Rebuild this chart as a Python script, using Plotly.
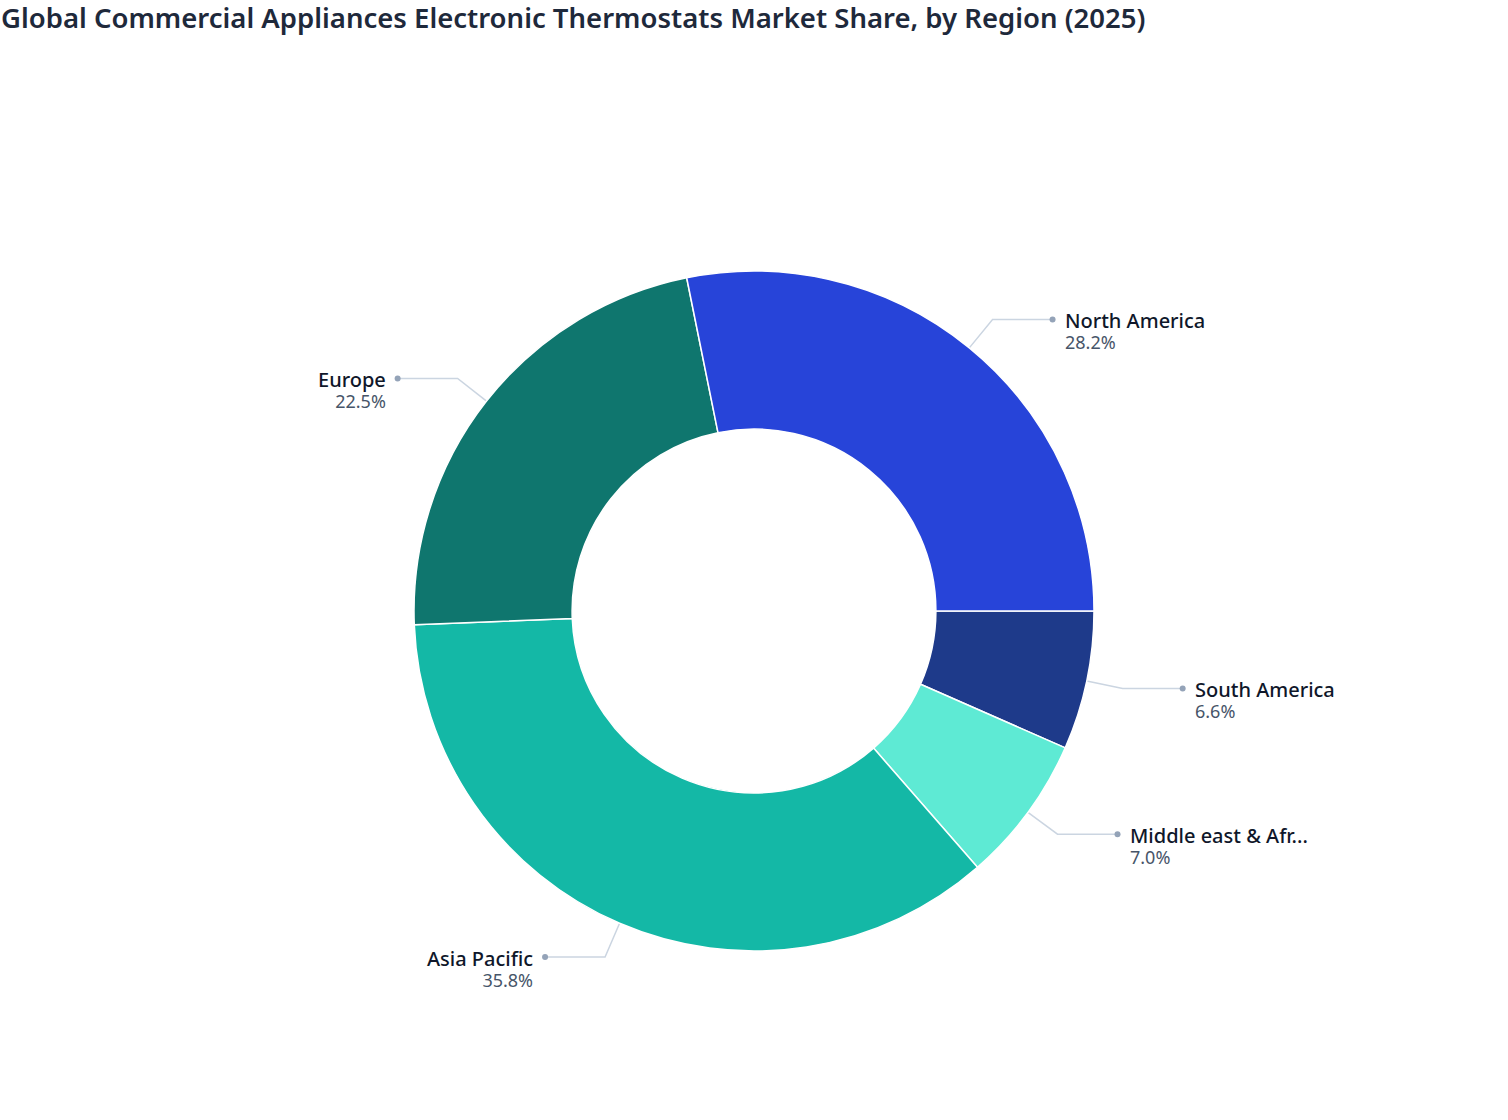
import numpy as np
import plotly.graph_objects as go

regions = ["North America", "Europe", "Asia Pacific", "Middle east & Africa", "South America"]
label_text = ["North America", "Europe", "Asia Pacific", "Middle east & Afr...", "South America"]
shares = [28.2, 22.5, 35.8, 7.0, 6.6]
colors = ["#2744D9", "#0F766E", "#14B8A6", "#5EEAD4", "#1E3A8A"]

W, H = 1508, 1120
cx, cy, R = 754, 611, 340
hole = 0.535

fig = go.Figure()

# slices run counterclockwise from 3 o'clock; plotly draws clockwise, so feed reversed order
fig.add_trace(go.Pie(
    labels=regions[::-1], values=shares[::-1], sort=False, direction="clockwise",
    rotation=90, hole=hole, textinfo="none", hoverinfo="label+percent",
    marker=dict(colors=colors[::-1], line=dict(color="#ffffff", width=1.5)),
    domain=dict(x=[(cx - R) / W, (cx + R) / W], y=[1 - (cy + R) / H, 1 - (cy - R) / H]),
    showlegend=False,
))

# leader lines computed from slice mid-angles (counterclockwise from 3 o'clock)
vals = np.array(shares)
frac = vals / vals.sum()
ends = np.cumsum(frac) * 360
starts = ends - frac * 360
mids = np.deg2rad((starts + ends) / 2)
annotations = []
for i, a in enumerate(mids):
    x0, y0 = cx + R * np.cos(a), cy - R * np.sin(a)
    r1 = R * 1.108
    x1, y1 = cx + r1 * np.cos(a), cy - r1 * np.sin(a)
    side = 1 if np.cos(a) >= 0 else -1
    x2 = x1 + side * 60
    fig.add_trace(go.Scatter(
        x=[x0, x1, x2], y=[y0, y1, y1], mode="lines",
        line=dict(color="#CBD5E1", width=1.5), hoverinfo="skip", showlegend=False,
        xaxis="x", yaxis="y"))
    fig.add_trace(go.Scatter(
        x=[x2], y=[y1], mode="markers", marker=dict(color="#94A3B8", size=6),
        hoverinfo="skip", showlegend=False, xaxis="x", yaxis="y"))
    tx = x2 + side * 10
    anchor = "left" if side > 0 else "right"
    text = (f"<span style='font-size:20px;font-weight:500;color:#0F172A'>{label_text[i]}</span><br>"
            f"<span style='font-size:18px;color:#475569'>{shares[i]:.1f}%</span>")
    annotations.append(dict(
        x=tx, y=y1 + 11, xref="x", yref="y", text=text, showarrow=False,
        xanchor=anchor, yanchor="middle", align=anchor,
        font=dict(family="Noto Sans", size=16, color="#0F172A")))

fig.update_layout(
    width=W, height=H,
    margin=dict(l=0, r=0, t=0, b=0),
    paper_bgcolor="#FFFFFF", plot_bgcolor="rgba(0,0,0,0)",
    title=dict(text="Global Commercial Appliances Electronic Thermostats Market Share, by Region (2025)",
               x=1 / W, xref="container", xanchor="left", y=1 - 18 / H, yref="container",
               yanchor="middle", font=dict(family="Noto Sans", size=27.5, weight=600, color="#1E293B")),
    xaxis=dict(range=[0, W], visible=False, fixedrange=True),
    yaxis=dict(range=[H, 0], visible=False, fixedrange=True),
    annotations=annotations,
)

fig.write_html("out.html", config={"displayModeBar": False},
               post_script="document.body.style.margin='0';")
